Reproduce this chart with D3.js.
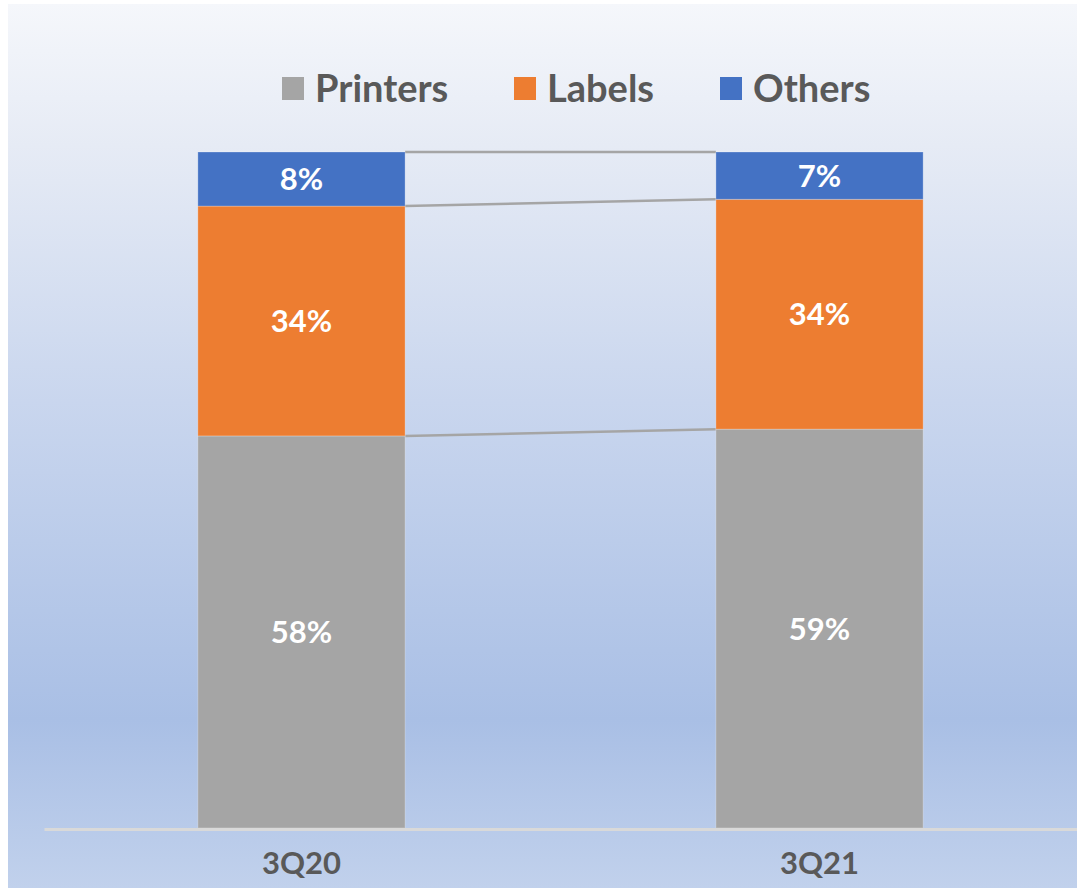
<!DOCTYPE html>
<html>
<head>
<meta charset="utf-8">
<script src="https://cdn.jsdelivr.net/npm/d3@7"></script>
<style>
    body {
        margin: 0;
        background: #ffffff;
    }
    svg text {
        font-family: Lato, 'Open Sans', sans-serif;
        font-weight: bold;
    }
</style>
</head>
<body>
<svg width="1077" height="888"></svg>
<script>
    // quarters, and each segment share in percent
    var quarters = ["3Q20", "3Q21"];
    var seriesNames = ["Printers", "Labels", "Others"];
    var printers = [58, 59];
    var labels = [34, 34];
    var others = [8, 7];
    var colors = ["#a5a5a5", "#ed7d31", "#4472c4"];

    var svg = d3.select("svg"),
        W = +svg.attr("width"),
        H = +svg.attr("height");

    // background gradient
    var defs = svg.append("defs");
    var grad = defs.append("linearGradient")
        .attr("id", "bg")
        .attr("x1", 0).attr("y1", 0).attr("x2", 0).attr("y2", 1);
    grad.append("stop").attr("offset", "0%").attr("stop-color", "#f5f7fb");
    grad.append("stop").attr("offset", "16%").attr("stop-color", "#e6ebf5");
    grad.append("stop").attr("offset", "45%").attr("stop-color", "#c9d6ee");
    grad.append("stop").attr("offset", "81%").attr("stop-color", "#a9bfe5");
    grad.append("stop").attr("offset", "100%").attr("stop-color", "#c1d1ec");

    svg.append("rect")
        .attr("x", 8).attr("y", 4)
        .attr("width", W - 8).attr("height", H - 4)
        .attr("fill", "url(#bg)");

    var data = quarters.map(function (q, i) {
        return { quarter: q, Printers: printers[i], Labels: labels[i], Others: others[i] };
    });

    var stacked = d3.stack().keys(seriesNames)(data);

    var x = d3.scaleBand()
        .domain(quarters)
        .range([44, 1077])
        .paddingInner(0.6)
        .paddingOuter(0.297);

    var y = d3.scaleLinear()
        .domain([0, 100])
        .range([828, 152]);

    var color = d3.scaleOrdinal().domain(seriesNames).range(colors);

    // series lines joining the tops of each segment
    var g = svg.append("g");
    stacked.forEach(function (s) {
        g.append("line")
            .attr("x1", x(quarters[0]) + x.bandwidth())
            .attr("x2", x(quarters[1]))
            .attr("y1", y(s[0][1]))
            .attr("y2", y(s[1][1]))
            .attr("stroke", "#a5a5a5")
            .attr("stroke-width", 2.5);
    });

    var layers = g.selectAll("g.layer")
        .data(stacked)
        .enter().append("g")
        .attr("class", "layer")
        .attr("fill", function (d) { return color(d.key); });

    layers.selectAll("rect")
        .data(function (d) { return d; })
        .enter().append("rect")
        .attr("x", function (d) { return x(d.data.quarter); })
        .attr("y", function (d) { return y(d[1]); })
        .attr("width", x.bandwidth())
        .attr("height", function (d) { return y(d[0]) - y(d[1]); })
        .attr("stroke", "rgba(255,255,255,0.25)")
        .attr("stroke-width", 1);

    layers.selectAll("text")
        .data(function (d) { return d; })
        .enter().append("text")
        .attr("x", function (d) { return x(d.data.quarter) + x.bandwidth() / 2; })
        .attr("y", function (d) { return (y(d[0]) + y(d[1])) / 2; })
        .attr("dy", "0.36em")
        .attr("text-anchor", "middle")
        .attr("fill", "#ffffff")
        .attr("font-size", 31)
        .text(function (d) { return (d[1] - d[0]) + "%"; });

    // category axis
    var axis = svg.append("g")
        .attr("transform", "translate(0,829)")
        .call(d3.axisBottom(x).tickSize(0).tickPadding(23));
    axis.select(".domain")
        .attr("stroke", "#d9d9d9")
        .attr("stroke-width", 3);
    axis.selectAll("text")
        .attr("fill", "#595959")
        .attr("font-size", 31)
        .style("font-family", "Lato, 'Open Sans', sans-serif")
        .style("font-weight", "bold");

    // legend
    var legendX = [282, 514, 720];
    var legend = svg.append("g")
        .selectAll("g")
        .data(seriesNames)
        .enter().append("g")
        .attr("transform", function (d, i) { return "translate(" + legendX[i] + ",77)"; });

    legend.append("rect")
        .attr("width", 22)
        .attr("height", 23)
        .attr("fill", function (d) { return color(d); });

    legend.append("text")
        .attr("x", 33)
        .attr("y", 11)
        .attr("dy", "0.36em")
        .attr("fill", "#595959")
        .attr("font-size", 38)
        .text(function (d) { return d; });
</script>
</body>
</html>
